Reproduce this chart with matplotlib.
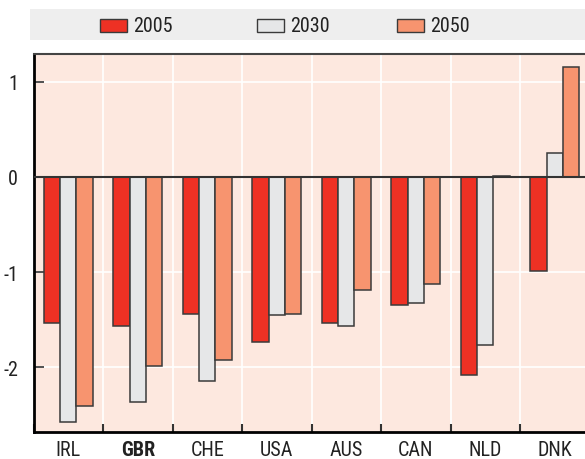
import numpy as np
import matplotlib.pyplot as plt
from matplotlib import font_manager
from matplotlib.patches import Rectangle

countries = ['IRL', 'GBR', 'CHE', 'USA', 'AUS', 'CAN', 'NLD', 'DNK']
v2005 = [-1.53, -1.57, -1.44, -1.74, -1.54, -1.35, -2.08, -0.99]
v2030 = [-2.58, -2.36, -2.14, -1.45, -1.57, -1.32, -1.77, 0.245]
v2050 = [-2.41, -1.99, -1.92, -1.44, -1.19, -1.13, 0.01, 1.15]
years = ['2005', '2030', '2050']
colors = ['#EE3124', '#E6E7E8', '#F7946F']

# pick a narrow font if there is one
names = {f.name for f in font_manager.fontManager.ttflist}
narrow = [n for n in ['Liberation Sans Narrow', 'DejaVu Sans Condensed', 'Roboto Condensed',
                      'Open Sans Condensed', 'Noto Sans Condensed'] if n in names]
plt.rcParams['font.family'] = narrow + ['Liberation Sans', 'DejaVu Sans']
if not narrow:
    plt.rcParams['font.stretch'] = 'condensed'

fs = 14.5
fig = plt.figure(figsize=(5.85, 4.6), dpi=100)
W, H = 585, 460
# grey legend band
fig.patches.append(Rectangle((30/W, 1-41/H), 555/W, 31/H, transform=fig.transFigure,
                             facecolor='#EEEEEE', edgecolor='none', zorder=0))
# legend entries
for lx, yr, c in zip([100, 257, 397], years, colors):
    fig.patches.append(Rectangle((lx/W, 1-33/H), 27/W, 13/H, transform=fig.transFigure,
                                 facecolor=c, edgecolor='#3a3a3a', linewidth=1, zorder=2))
    fig.text((lx+33)/W, 1-26.5/H, yr, fontsize=fs, va='center', ha='left', color='#222222')

ax = fig.add_axes([33.5/W, 1-433/H, 556/W, 378/H])
ax.set_facecolor('#FDE8DF')

x = np.arange(len(countries))
w = 0.235
for i, (vals, c) in enumerate(zip([v2005, v2030, v2050], colors)):
    ax.bar(x + (i-1)*w, vals, w, color=c, edgecolor='#3a3a3a', linewidth=1.1, zorder=3)

ax.axhline(0, color='#333333', linewidth=1.5, zorder=4)
ax.set_xlim(-0.5, len(countries)-0.5)
ax.set_ylim(-2.68, 1.29)
ax.set_yticks([1, 0, -1, -2])
ax.set_yticklabels(['1', '0', '-1', '-2'])
ax.set_xticks(x)
ax.set_xticklabels(countries)
ax.set_xticks(np.arange(len(countries)+1) - 0.5, minor=True)
ax.tick_params(axis='x', which='major', length=0, labelsize=fs, pad=6, labelcolor='#222222')
ax.tick_params(axis='x', which='minor', direction='in', length=6, width=1.5, color='#333333')
ax.tick_params(axis='y', direction='in', length=7, width=1.2, labelsize=fs, pad=11,
               color='#333333', labelcolor='#222222')
ax.get_xticklabels()[1].set_fontweight('bold')

ax.grid(axis='y', color='white', linewidth=1.2, zorder=1)
ax.grid(axis='x', which='minor', color='white', linewidth=1.2, zorder=1)
ax.set_axisbelow(True)

ax.spines['right'].set_visible(False)
ax.spines['left'].set_linewidth(2)
ax.spines['bottom'].set_linewidth(2)
ax.spines['top'].set_linewidth(1.5)
ax.spines['top'].set_color('#444444')

fig.savefig('out.png', dpi=100)
